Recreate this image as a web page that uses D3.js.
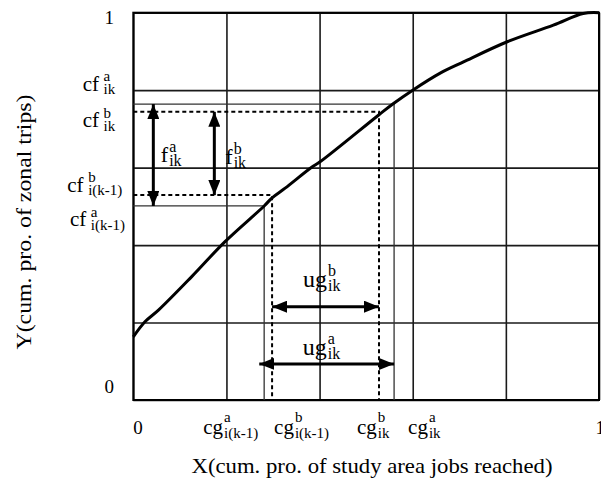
<!DOCTYPE html>
<html><head><meta charset="utf-8">
<script src="https://cdn.jsdelivr.net/npm/d3@7"></script>
<style>
body{margin:0;background:#fff}
svg{display:block}
text{font-family:"Liberation Serif","Times New Roman",serif;fill:#000}
</style></head>
<body><svg id="c" width="601" height="484"></svg>
<script>
// ---- data ----
const xGrid = [0, 0.2, 0.4, 0.6, 0.8, 1];
const yGrid = [0, 0.2, 0.4, 0.6, 0.8, 1];
const curveX = [0, 0.025, 0.054, 0.125, 0.197, 0.281, 0.298, 0.326, 0.383, 0.401, 0.527, 0.558, 0.600, 0.659, 0.709, 0.803, 0.902, 0.966, 1.0];
const curveY = [0.163, 0.202, 0.232, 0.318, 0.409, 0.501, 0.522, 0.547, 0.601, 0.615, 0.736, 0.765, 0.800, 0.844, 0.873, 0.925, 0.968, 0.998, 1.0];
// reference corners: [x, y]  a = solid, b = dashed
const solidCorners = [[0.281, 0.501], [0.560, 0.764]];
const dashedCorners = [[0.298, 0.529], [0.5276, 0.744]];
// double arrows: vertical [x, y1, y2], horizontal [y, x1, x2]
const vArrows = [[0.043, 0.764, 0.501], [0.174, 0.744, 0.529]];
const hArrows = [[0.241, 0.298, 0.5276], [0.093, 0.2705, 0.560]];
const xTickLabels = [
  {v: 0, base: "0"},
  {v: 0.281, base: "cg", sup: "a", sub: "i(k-1)"},
  {v: 0.298, base: "cg", sup: "b", sub: "i(k-1)"},
  {v: 0.5276, base: "cg", sup: "b", sub: "ik"},
  {v: 0.560, base: "cg", sup: "a", sub: "ik"},
  {v: 1, base: "1"}
];
const yTickLabels = [
  {v: 1, base: "1"},
  {v: 0.764, base: "cf", sup: "a", sub: "ik"},
  {v: 0.744, base: "cf", sup: "b", sub: "ik"},
  {v: 0.529, base: "cf", sup: "b", sub: "i(k-1)"},
  {v: 0.501, base: "cf", sup: "a", sub: "i(k-1)"},
  {v: 0, base: "0"}
];
const arrowLabels = [
  {base: "f", sup: "a", sub: "ik"},
  {base: "f", sup: "b", sub: "ik"},
  {base: "ug", sup: "b", sub: "ik"},
  {base: "ug", sup: "a", sub: "ik"}
];
const xTitle = "X(cum. pro. of study area jobs reached)";
const yTitle = "Y(cum. pro. of zonal trips)";

// ---- layout (pixel offsets) ----
const xLabelDx = [0, -61, 2, -22, 14, -3.5];
const yLabelPos = [[-28.8, 11], [-50.6, -13.5], [-50.6, 15.3], [-66, -3.3], [-63.3, 20.5], [-28.8, -7]];
const arrowLabelPos = [[7.5, 58], [11, 52.3], [31, -20], [43.5, -9]];

const margin = {left: 133.3, top: 12.7, right: 2, bottom: 84};
const W = 601, H = 484;
const iw = W - margin.left - margin.right, ih = H - margin.top - margin.bottom;
const svg = d3.select("#c");
const g = svg.append("g").attr("transform", `translate(${margin.left},${margin.top})`);
const x = d3.scaleLinear().domain([0, 1]).range([0, iw]);
const y = d3.scaleLinear().domain([0, 1]).range([ih, 0]);

// grid
g.append("g").attr("transform", `translate(0,${ih})`)
  .call(d3.axisBottom(x).tickValues(xGrid).tickSize(-ih).tickFormat(""))
  .call(a => a.select(".domain").remove())
  .call(a => a.selectAll("line").attr("stroke", "#1a1a1a").attr("stroke-width", 1.6));
g.append("g")
  .call(d3.axisLeft(y).tickValues(yGrid).tickSize(-iw).tickFormat(""))
  .call(a => a.select(".domain").remove())
  .call(a => a.selectAll("line").attr("stroke", "#1a1a1a").attr("stroke-width", 1.6));
g.append("rect").attr("x", 0).attr("y", 0).attr("width", iw).attr("height", ih)
  .attr("fill", "none").attr("stroke", "#000").attr("stroke-width", 2);

// reference lines
function corner(c, dashed) {
  const [cx, cy] = c;
  const p = g.append("path")
    .attr("d", `M${x(0)},${y(cy)}H${x(cx)}V${y(0)}`)
    .attr("fill", "none").attr("stroke", "#000");
  if (dashed) p.attr("stroke-width", 2).attr("stroke-dasharray", "4,3");
  else p.attr("stroke-width", 1.3).attr("stroke", "#333");
}
solidCorners.forEach(c => corner(c, false));
dashedCorners.forEach(c => corner(c, true));

// curve
const pts = curveX.map((d, i) => [d, curveY[i]]);
g.append("path").datum(pts)
  .attr("d", d3.line().x(d => x(d[0])).y(d => y(d[1])).curve(d3.curveCatmullRom))
  .attr("fill", "none").attr("stroke", "#000").attr("stroke-width", 3).attr("stroke-linejoin", "round");

// arrows
const defs = svg.append("defs");
defs.append("marker").attr("id", "ah").attr("markerUnits", "userSpaceOnUse")
  .attr("viewBox", "0 0 15 12").attr("refX", 15).attr("refY", 6)
  .attr("markerWidth", 15).attr("markerHeight", 12).attr("orient", "auto-start-reverse")
  .append("path").attr("d", "M0,0L15,6L0,12Z").attr("fill", "#000");
vArrows.forEach(a => {
  g.append("line").attr("x1", x(a[0])).attr("x2", x(a[0])).attr("y1", y(a[1])).attr("y2", y(a[2]))
    .attr("stroke", "#000").attr("stroke-width", 3)
    .attr("marker-start", "url(#ah)").attr("marker-end", "url(#ah)");
});
hArrows.forEach(a => {
  g.append("line").attr("y1", y(a[0])).attr("y2", y(a[0])).attr("x1", x(a[1])).attr("x2", x(a[2]))
    .attr("stroke", "#000").attr("stroke-width", 3)
    .attr("marker-start", "url(#ah)").attr("marker-end", "url(#ah)");
});

// label helper
function label(parent, spec, px, py, baseSize, smallSize) {
  const t = parent.append("text").attr("x", px).attr("y", py)
    .attr("font-size", baseSize).text(spec.base);
  if (!spec.sup) return;
  const w = t.node().getComputedTextLength();
  const extra = spec.base === "cf" ? 4.5 : 1;
  const rise = spec.base === "cg" ? 0.56 : 0.45;
  parent.append("text").attr("x", px + w + extra).attr("y", py - baseSize * rise)
    .attr("font-size", smallSize).text(spec.sup);
  parent.append("text").attr("x", px + w + extra).attr("y", py + baseSize * 0.17)
    .attr("font-size", smallSize).text(spec.sub);
}

xTickLabels.forEach((d, i) => {
  label(g, d, x(d.v) + xLabelDx[i], ih + 34, d.sup ? 21 : 19, 15);
});
yTickLabels.forEach((d, i) => {
  label(g, d, x(0) + yLabelPos[i][0], y(d.v) + yLabelPos[i][1], d.sup ? 21 : 19, 15);
});
const arrowAnchors = [
  [x(vArrows[0][0]), y(vArrows[0][1])], [x(vArrows[1][0]), y(vArrows[1][1])],
  [x(hArrows[0][1]), y(hArrows[0][0])], [x(hArrows[1][1]), y(hArrows[1][0])]
];
arrowLabels.forEach((d, i) => {
  const big = d.base === "ug" ? 24 : 22;
  label(g, d, arrowAnchors[i][0] + arrowLabelPos[i][0], arrowAnchors[i][1] + arrowLabelPos[i][1], big, 16);
});

// titles
svg.append("text").attr("x", 372).attr("y", 473).attr("text-anchor", "middle")
  .attr("font-size", 22).attr("textLength", 361).attr("lengthAdjust", "spacingAndGlyphs").text(xTitle);
svg.append("text").attr("transform", "translate(31,222) rotate(-90)").attr("text-anchor", "middle")
  .attr("font-size", 22).attr("textLength", 255).attr("lengthAdjust", "spacingAndGlyphs").text(yTitle);
</script></body></html>
